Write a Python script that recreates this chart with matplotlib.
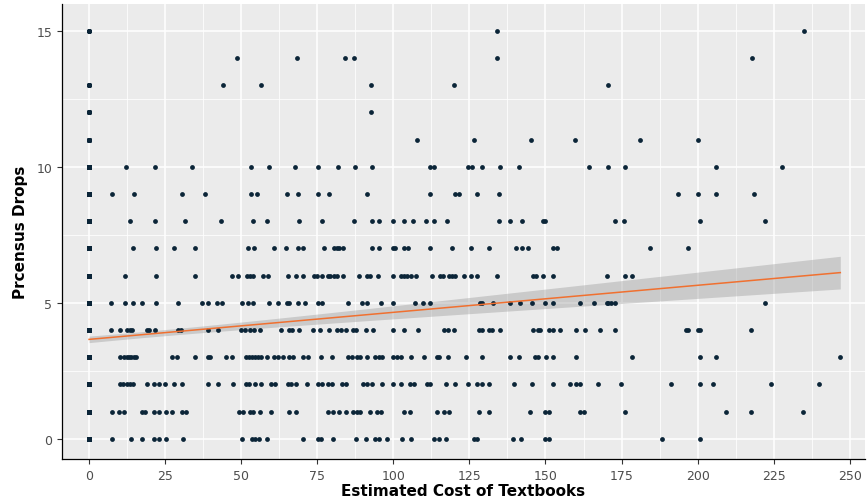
#!/usr/bin/env python3
from __future__ import annotations

import matplotlib

matplotlib.use("Agg")
import matplotlib.pyplot as plt
import numpy as np

# textbook cost (x) for each number of census drops (y)
cost_drops_0 = [0, 7.7, 13.8, 17.3, 21.5, 23.1, 25.3, 30.8, 50.4, 53.7, 54.5, 55.8, 58.4, 70.2, 75.3,
                76.2, 80.3, 87.7, 91, 94, 95.4, 98, 103, 105.7, 113.3, 115.1, 117.3, 126.5, 127.4,
                139.2, 142.1, 149.8, 151.2, 188.4, 200.7]
cost_drops_1 = [0, 7.7, 9.9, 11.6, 17.4, 18.3, 21.2, 23.1, 25.3, 27.4, 30.4, 31.7, 49.3, 50.5, 52.9,
                54, 56.3, 59.7, 65.8, 67.9, 78.4, 80.3, 82.2, 84.4, 86.6, 87.9, 89.2, 92.3, 94.7,
                95.8, 103.5, 105.5, 114.2, 116.6, 118.4, 128.1, 131.4, 144.9, 150, 151.3, 161.3,
                162.7, 176, 209.4, 217.4, 234.7]
cost_drops_2 = [0, 10.3, 11.3, 12.4, 13.3, 14.4, 19.2, 21.5, 23.1, 24.8, 28, 30.6, 39, 42.3, 47.2,
                51.6, 52.6, 54.5, 56.4, 59.7, 61.1, 65.3, 66.4, 68, 71.5, 75.1, 76.7, 78.4, 80, 83,
                84.4, 89.9, 91.2, 92.9, 96.2, 99.8, 102.5, 105.5, 106.9, 111.2, 112.2, 117.3, 120.2,
                124.6, 127.4, 129.2, 131.4, 139.6, 145.7, 152.6, 158.2, 160, 161.3, 167.3, 174.9,
                191.4, 200.7, 205.2, 224, 239.9]
cost_drops_3 = [0, 10.3, 11.6, 12.4, 13.1, 13.9, 14.8, 15.4, 27.3, 29, 34.9, 39, 39.6, 44.9, 46.9,
                51.6, 52.6, 53.7, 54.5, 55.5, 56.5, 58.6, 60.9, 62.2, 63.6, 65.7, 67.1, 70.4, 71.8,
                76.2, 80, 85.2, 86.5, 87.9, 89.2, 91.2, 94, 95.4, 96.2, 99.8, 101.3, 102.4, 105.7,
                110.2, 114.2, 115.1, 118, 123.8, 129.2, 138.3, 141.4, 146.5, 147.6, 150.1, 152.5,
                160, 178.4, 200.7, 206, 246.9]
cost_drops_4 = [0, 7.1, 10.3, 12.5, 13.3, 14.1, 19.2, 19.8, 21.7, 29.1, 30.2, 39, 42.3, 49.9, 51.2,
                52.9, 54.2, 56.2, 63, 65.8, 66.8, 68.9, 73.7, 75.9, 78.9, 81.4, 82.7, 84.4, 86.8,
                87.7, 90.9, 93.2, 99.8, 103.5, 108, 116.7, 118, 120.1, 128.2, 129.3, 131.3, 132.5,
                135.1, 145.9, 147.6, 148.2, 151.2, 152.5, 154.7, 160, 162.9, 167.8, 172.8, 196.1,
                196.8, 200.2, 200.7, 217.4]
cost_drops_5 = [0, 7.1, 11.9, 14.4, 17.5, 22, 29.1, 37.2, 39, 41.9, 43.6, 50.2, 52.1, 54, 59.1,
                62.2, 64.9, 65.8, 68.7, 71, 75.3, 76.4, 85.2, 89.6, 91.2, 96, 99.8, 107, 109.9,
                112.2, 128.4, 129.2, 132.8, 138.3, 141.7, 145.6, 150, 152.5, 161.3, 166.1, 170.1,
                170.7, 171.4, 172.8, 222.2]
cost_drops_6 = [0, 11.9, 22, 34.9, 46.9, 49, 52, 52.9, 54, 57.3, 58.7, 65.5, 68, 70.4, 73.9, 75,
                76.4, 78.4, 79.2, 80.5, 81.4, 83.5, 88.7, 91.2, 92.3, 95, 99.8, 102.4, 103.5, 104.6,
                105.7, 107.3, 112.6, 115.3, 116.2, 118.4, 119.4, 120.2, 123.2, 125.5, 127.4, 134.2,
                145.9, 146.8, 149.2, 152.6, 170.3, 176, 178.4]
cost_drops_7 = [0, 14.6, 22, 27.9, 34.9, 52.1, 54.2, 60.8, 64.7, 68.6, 70.4, 77.2, 80.5, 81.4, 82.1,
                83.5, 92.9, 95.3, 99.8, 100.6, 103.6, 104.9, 112.2, 119.4, 125.6, 131.4, 140.4,
                142.2, 144.2, 152.5, 153.7, 184.2, 196.7]
cost_drops_8 = [0, 13.3, 21.8, 31.5, 43.5, 54, 58.6, 69, 76.6, 87, 92.9, 95.3, 99.9, 103.6, 106.4,
                110.7, 113.4, 117.6, 134.8, 138.3, 142.2, 149.1, 150, 172.8, 175.8, 200.7, 222.3]
cost_drops_9 = [0, 7.4, 14.8, 30.4, 38.2, 53.2, 55.2, 64.9, 68.7, 75.3, 78.7, 91.3, 112.2, 120.2,
                121.6, 127.5, 134.8, 193.5, 200.2, 206.2, 218.5]
cost_drops_10 = [0, 12.3, 21.8, 33.7, 53.2, 59.1, 67.7, 75.3, 81.7, 87.4, 92.9, 112.2, 113.4, 124.4,
                 125.7, 129.2, 135.1, 141.4, 164.4, 170.7, 176, 206, 227.8]
cost_drops_11 = [0, 107.7, 126.6, 145.4, 159.8, 181.2, 200.2]
cost_drops_12 = [0, 0, 92.6]
cost_drops_13 = [0, 44, 56.5, 92.6, 120, 170.5]
cost_drops_14 = [48.6, 68.3, 84, 87, 134, 218]
cost_drops_15 = [0, 134, 235]

# extra students stacked at zero cost (all overlap into one dot at x = 0);
# counts estimated so the fitted line and its band match the chart
zero_cost_extra = [250, 260, 300, 330, 300, 200, 150, 90, 70, 50, 50, 15, 10, 8, 0, 5]

x_ticks = [0, 25, 50, 75, 100, 125, 150, 175, 200, 225, 250]
y_ticks = [0, 5, 10, 15]


def collect_points() -> tuple[np.ndarray, np.ndarray]:
    levels = [cost_drops_0, cost_drops_1, cost_drops_2, cost_drops_3, cost_drops_4, cost_drops_5,
              cost_drops_6, cost_drops_7, cost_drops_8, cost_drops_9, cost_drops_10, cost_drops_11,
              cost_drops_12, cost_drops_13, cost_drops_14, cost_drops_15]
    xs, ys = [], []
    for drops, costs in enumerate(levels):
        costs = list(costs) + [0] * zero_cost_extra[drops]
        xs.extend(costs)
        ys.extend([drops] * len(costs))
    return np.asarray(xs, dtype=float), np.asarray(ys, dtype=float)


def lm_band(x: np.ndarray, y: np.ndarray, grid: np.ndarray):
    slope, intercept = np.polyfit(x, y, 1)
    fit = intercept + slope * grid
    resid = y - (intercept + slope * x)
    n = len(x)
    s = np.sqrt((resid ** 2).sum() / (n - 2))
    sxx = ((x - x.mean()) ** 2).sum()
    se = s * np.sqrt(1.0 / n + (grid - x.mean()) ** 2 / sxx)
    return fit, fit - 1.96 * se, fit + 1.96 * se


def main() -> None:
    x, y = collect_points()

    fig = plt.figure(figsize=(8.68, 5.02), dpi=100)
    fig.patch.set_facecolor("white")
    ax = fig.add_axes([0.0714, 0.0837, 0.9251, 0.9063])
    ax.set_facecolor("#EBEBEB")

    ax.set_xlim(-8.9, 255)
    ax.set_ylim(-0.74, 15.98)
    ax.set_xticks(x_ticks)
    ax.set_yticks(y_ticks)
    ax.set_xticks([t + 12.5 for t in x_ticks[:-1]], minor=True)
    ax.set_yticks([2.5, 7.5, 12.5], minor=True)
    ax.grid(True, which="major", color="white", linewidth=1.1)
    ax.grid(True, which="minor", color="white", linewidth=0.55)
    ax.set_axisbelow(True)

    grid = np.linspace(x.min(), x.max(), 200)
    fit, lo, hi = lm_band(x, y, grid)
    ax.fill_between(grid, lo, hi, color="#999999", alpha=0.4, linewidth=0, zorder=2)

    ax.scatter(x, y, s=12, color="#0B2538", linewidths=0, zorder=3)
    ax.plot(grid, fit, color="#F07030", linewidth=1.1, zorder=4)

    for side in ("top", "right"):
        ax.spines[side].set_visible(False)
    for side in ("left", "bottom"):
        ax.spines[side].set_color("black")
        ax.spines[side].set_linewidth(0.9)
    ax.tick_params(axis="both", which="major", length=3.5, color="#333333",
                   labelsize=9, labelcolor="#4D4D4D")
    ax.tick_params(axis="both", which="minor", length=0)

    ax.set_xlabel("Estimated Cost of Textbooks", fontsize=11, fontweight="bold", labelpad=1)
    ax.set_ylabel("Prcensus Drops", fontsize=11, fontweight="bold", labelpad=6)

    fig.savefig("out.png", dpi=100, facecolor="white")
    plt.close(fig)


if __name__ == "__main__":
    main()
